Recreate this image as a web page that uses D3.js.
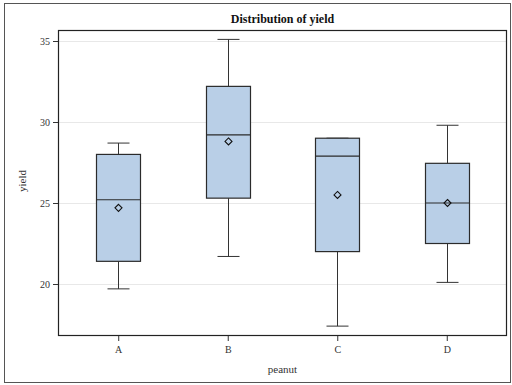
<!DOCTYPE html>
<html>
<head>
<meta charset="utf-8">
<script src="https://cdn.jsdelivr.net/npm/d3@7"></script>
<style>
  body { margin: 0; background: #fff; }
  text { font-family: "Liberation Serif", "DejaVu Serif", serif; fill: #333; }
</style>
</head>
<body>
<svg id="chart" width="512" height="385"></svg>
<script>
// box plot stats per peanut variety
var peanuts = ["A", "B", "C", "D"];
var whiskerLow = [19.7, 21.7, 17.4, 20.1];
var q1Vals = [21.4, 25.3, 22.0, 22.5];
var medians = [25.2, 29.2, 27.9, 25.0];
var q3Vals = [28.0, 32.2, 29.0, 27.45];
var whiskerHigh = [28.7, 35.1, 29.0, 29.8];
var means = [24.7, 28.8, 25.5, 25.0];
var yTicks = [20, 25, 30, 35];

var data = peanuts.map(function(p, i) {
    return { name: p, lo: whiskerLow[i], q1: q1Vals[i], med: medians[i],
             q3: q3Vals[i], hi: whiskerHigh[i], mean: means[i] };
});

var svg = d3.select("#chart");
var plotLeft = 58, plotRight = 507, plotTop = 30, plotBottom = 336;

//outer border
svg.append("rect")
    .attr("x", 4.5).attr("y", 3.5)
    .attr("width", 506).attr("height", 379)
    .attr("fill", "none")
    .attr("stroke", "#555")
    .attr("stroke-width", 1);

var x = d3.scalePoint()
    .domain(peanuts)
    .range([plotLeft, plotRight])
    .padding(0.55);

var y = d3.scaleLinear()
    .domain([16.79, 35.68])
    .range([plotBottom, plotTop]);

//gridlines
svg.append("g")
    .selectAll("line")
    .data(yTicks)
    .enter().append("line")
    .attr("x1", plotLeft).attr("x2", plotRight)
    .attr("y1", d => Math.round(y(d)) + 0.5)
    .attr("y2", d => Math.round(y(d)) + 0.5)
    .attr("stroke", "#e8e8e8");

//boxes
var boxW = 44, capW = 22;
var g = svg.append("g");
data.forEach(function(d) {
    var cx = Math.round(x(d.name)) + 0.5;
    //whiskers
    g.append("line")
        .attr("x1", cx).attr("x2", cx)
        .attr("y1", y(d.hi)).attr("y2", y(d.q3))
        .attr("stroke", "#333");
    g.append("line")
        .attr("x1", cx).attr("x2", cx)
        .attr("y1", y(d.q1)).attr("y2", y(d.lo))
        .attr("stroke", "#333");
    g.append("line")
        .attr("x1", cx - capW / 2).attr("x2", cx + capW / 2)
        .attr("y1", y(d.hi)).attr("y2", y(d.hi))
        .attr("stroke", "#333");
    g.append("line")
        .attr("x1", cx - capW / 2).attr("x2", cx + capW / 2)
        .attr("y1", y(d.lo)).attr("y2", y(d.lo))
        .attr("stroke", "#333");
    //box
    g.append("rect")
        .attr("x", cx - boxW / 2)
        .attr("y", y(d.q3))
        .attr("width", boxW)
        .attr("height", y(d.q1) - y(d.q3))
        .attr("fill", "#b9cfe7")
        .attr("stroke", "#2b2b2b")
        .attr("stroke-width", 1.2);
    //median
    g.append("line")
        .attr("x1", cx - boxW / 2).attr("x2", cx + boxW / 2)
        .attr("y1", y(d.med)).attr("y2", y(d.med))
        .attr("stroke", "#2b2b2b")
        .attr("stroke-width", 1.2);
    //mean diamond
    var my = y(d.mean), r = 3.5;
    g.append("path")
        .attr("d", "M" + cx + "," + (my - r) + "L" + (cx + r) + "," + my +
                   "L" + cx + "," + (my + r) + "L" + (cx - r) + "," + my + "Z")
        .attr("fill", "none")
        .attr("stroke", "#111")
        .attr("stroke-width", 1.1);
});

//plot frame
svg.append("rect")
    .attr("x", plotLeft + 0.5).attr("y", plotTop + 0.5)
    .attr("width", plotRight - plotLeft - 1).attr("height", plotBottom - plotTop - 1)
    .attr("fill", "none")
    .attr("stroke", "#222")
    .attr("stroke-width", 1.2);

//axes
var yAxis = svg.append("g")
    .attr("transform", "translate(" + plotLeft + ",0)")
    .call(d3.axisLeft(y).tickValues(yTicks).tickSize(5).tickPadding(3));
yAxis.select(".domain").remove();
yAxis.selectAll("text").style("font-size", "10px").style("font-family", "Liberation Serif").attr("fill", "#333");
yAxis.selectAll("line").attr("stroke", "#333");

var xAxis = svg.append("g")
    .attr("transform", "translate(0," + plotBottom + ")")
    .call(d3.axisBottom(x).tickSize(5).tickPadding(5));
xAxis.select(".domain").remove();
xAxis.selectAll("text").style("font-size", "10px").style("font-family", "Liberation Serif").attr("fill", "#333");
xAxis.selectAll("line").attr("stroke", "#333");

//title and labels
svg.append("text")
    .attr("x", (plotLeft + plotRight) / 2)
    .attr("y", 23)
    .attr("text-anchor", "middle")
    .style("font-size", "12px")
    .style("font-weight", "bold")
    .style("fill", "#111")
    .text("Distribution of yield");

svg.append("text")
    .attr("x", (plotLeft + plotRight) / 2)
    .attr("y", 373)
    .attr("text-anchor", "middle")
    .style("font-size", "11px")
    .text("peanut");

svg.append("text")
    .attr("transform", "translate(26,181) rotate(-90)")
    .attr("text-anchor", "middle")
    .style("font-size", "11px")
    .text("yield");
</script>
</body>
</html>
